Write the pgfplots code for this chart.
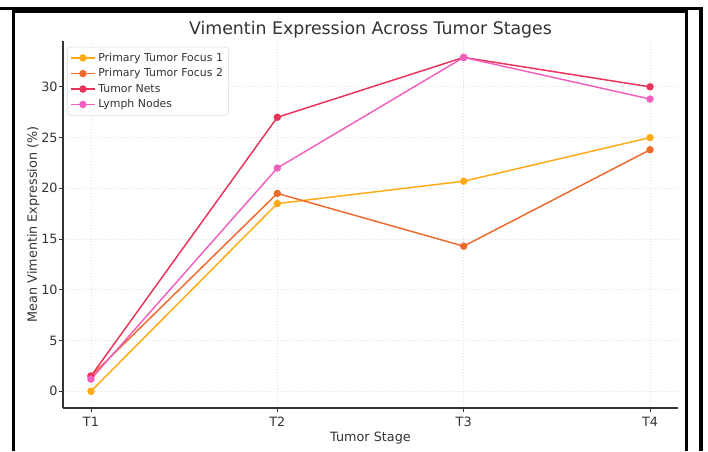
\documentclass[border=0pt]{standalone}
\usepackage{pgfplots}
\pgfplotsset{compat=1.18}
\usepackage{fontspec}
\setmainfont{DejaVu Sans}
\definecolor{cA}{HTML}{FFAA14}
\definecolor{cB}{HTML}{EE6A2C}
\definecolor{cC}{HTML}{E8335A}
\definecolor{cD}{HTML}{F060BE}
\definecolor{txt}{HTML}{333333}
\begin{document}
\begin{tikzpicture}
\path[use as bounding box] (0pt,0pt) rectangle (531pt,-338.25pt);
\draw[line width=2.3pt] (0pt,-6.2pt) -- (525.75pt,-6.2pt) -- (525.75pt,-338.25pt);
\draw[line width=2.3pt] (10.4pt,-338.25pt) -- (10.4pt,-8.85pt) -- (514.9pt,-8.85pt) -- (514.9pt,-338.25pt);
\begin{axis}[
  at={(47.25pt,-306pt)}, anchor=south west,
  scale only axis, width=461.25pt, height=275.5pt,
  xmin=-0.15, xmax=3.15, ymin=-1.645, ymax=34.55,
  axis x line*=bottom, axis y line*=left,
  axis line style={txt, line width=0.8pt},
  xtick={0,1,2,3}, xticklabels={T1,T2,T3,T4},
  ytick={0,5,10,15,20,25,30},
  tick align=outside, tick style={txt, line width=0.6pt},
  major tick length=3pt,
  grid=major, grid style={gray!25, dotted, line width=0.6pt},
  ticklabel style={font=\fontsize{9.6}{11}\selectfont, text=txt},
  yticklabel style={xshift=2.5pt},
  /pgf/number format/assume math mode=true,
  xlabel={Tumor Stage}, ylabel={Mean Vimentin Expression (\%)},
  label style={font=\fontsize{9.6}{11}\selectfont, text=txt},
  xlabel style={yshift=3pt},
  ylabel style={yshift=-5.5pt},
  title={Vimentin Expression Across Tumor Stages},
  title style={font=\fontsize{13}{15}\selectfont, text=txt, at={(0.5,1)}, anchor=base, yshift=-1.5pt},
  legend style={at={(0.0065,0.983)}, anchor=north west, draw=gray!30, rounded corners=2pt,
    font=\fontsize{8.2}{10}\selectfont, text=txt, row sep=0pt, inner sep=2.2pt},
  legend cell align=left,
  legend image code/.code={\draw[#1, line width=1.1pt] (0pt,0pt) -- (18pt,0pt); \draw[#1, mark repeat=1] plot coordinates {(9pt,0pt)};},
  every axis plot/.append style={line width=1.1pt, mark=*, mark size=2.2pt, mark options={solid}},
]
\addplot[cA, mark options={fill=cA, draw=cA}] coordinates {(0,0) (1,18.5) (2,20.7) (3,25)};
\addlegendentry{Primary Tumor Focus 1}
\addplot[cB, mark options={fill=cB, draw=cB}] coordinates {(0,1.5) (1,19.5) (2,14.3) (3,23.8)};
\addlegendentry{Primary Tumor Focus 2}
\addplot[cC, mark options={fill=cC, draw=cC}] coordinates {(0,1.5) (1,27) (2,32.9) (3,30)};
\addlegendentry{Tumor Nets}
\addplot[cD, mark options={fill=cD, draw=cD}] coordinates {(0,1.2) (1,22) (2,32.9) (3,28.8)};
\addlegendentry{Lymph Nodes}
\end{axis}
\end{tikzpicture}
\end{document}
